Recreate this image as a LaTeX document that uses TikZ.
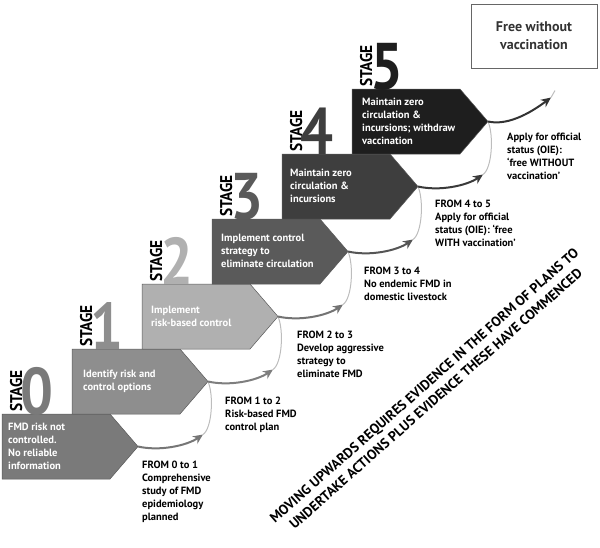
\documentclass[tikz,border=0pt]{standalone}
\usepackage{fontspec}
\setmainfont{PT Sans}
\usepackage{graphicx}
\usetikzlibrary{arrows.meta,calc}
\definecolor{s0}{HTML}{7A7A7A}
\definecolor{s1}{HTML}{8E8E8E}
\definecolor{s2}{HTML}{B0B0B0}
\definecolor{s3}{HTML}{5A5A5A}
\definecolor{s4}{HTML}{3E3E3E}
\definecolor{s5}{HTML}{1E1E1E}
\definecolor{r0}{HTML}{767676}
\definecolor{r1}{HTML}{7E7E7E}
\definecolor{r2}{HTML}{737373}
\definecolor{r3}{HTML}{555555}
\definecolor{r4}{HTML}{3A3A3A}
\definecolor{r5}{HTML}{333333}
\definecolor{arc}{HTML}{BDBDBD}
\begin{document}
\begin{tikzpicture}[x=1pt,y=-1pt,
  stagebox/.style={draw=black!65, line width=0.5pt},
  boxtext/.style={anchor=west, align=left, text=white, inner sep=0pt,
    font=\bfseries\fontsize{10.5}{13}\selectfont},
  fromtext/.style={anchor=north west, align=left, inner sep=0pt,
    font=\bfseries\fontsize{10.5}{13}\selectfont},
  stagelab/.style={rotate=90, anchor=base west, inner sep=0pt,
    font=\bfseries\fontsize{17}{17}\selectfont},
  digit/.style={anchor=base east, inner sep=0pt,
    font=\bfseries\fontsize{66}{66}\selectfont},
  uparrow/.style={line width=2pt, -{Stealth[length=10pt,width=9pt]}},
  backarc/.style={line width=1pt, draw=arc}]
\useasboundingbox (0,0) rectangle (600,547);

% stage boxes, labels and digits
\foreach \i/\col in {0/s0,1/s1,2/s2,3/s3,4/s4,5/s5}{
  \pgfmathsetmacro\L{2+70*\i}
  \pgfmathsetmacro\T{414-65*\i}
  \filldraw[stagebox, fill=\col] (\L,\T) -- ++(108,0) -- ++(28,32.5) -- ++(-28,32.5) -- ++(-108,0) -- cycle;
  \coordinate (t\i) at (\L+136,\T+32.5);
  \coordinate (a\i) at (\L+136+65,\T+32.5-12);
  \node[stagelab] (lab\i) at (\L+20,\T-2) {\scalebox{0.9}[1]{STAGE}};
  \node[digit, text=\col] (dig\i) at (\L+52,\T+0.5) {\scalebox{0.88}[1]{\i}};
}

\node[boxtext] (bt0) at (8,446.5) {FMD risk not\\controlled.\\No reliable\\information};
\node[boxtext] (bt1) at (83,381) {Identify risk and\\control options};
\node[boxtext] (bt2) at (151,316) {Implement\\risk-based control};
\node[boxtext] (bt3) at (221,251) {Implement control\\strategy to\\eliminate circulation};
\node[boxtext] (bt4) at (290,186) {Maintain zero\\circulation \&\\incursions};
\node[boxtext] (bt5) at (362,121) {Maintain zero\\circulation \&\\incursions; withdraw\\vaccination};

% transitions
\foreach \i/\j in {0/1,1/2,2/3,3/4,4/5}{
  \draw[backarc] (a\i) .. controls +(9,-6) and +(6,14) .. (t\j);
  \draw[uparrow, draw=r\i] (t\i) .. controls +(22,5) and +(-16,11) .. (a\i);
}
\coordinate (a5) at ($(t5)+(63,-24)$);
\draw[backarc] (a5) -- +(4,-7);
\draw[uparrow, draw=r5] (t5) .. controls +(22,5) and +(-16,12) .. (a5);

\node[fromtext] (f0) at (142,461) {FROM 0 to 1\\Comprehensive\\study of FMD\\epidemiology\\planned};
\node[fromtext] (f1) at (225,397) {FROM 1 to 2\\Risk-based FMD\\control plan};
\node[fromtext] (f2) at (297,331) {FROM 2 to 3\\Develop aggressive\\strategy to\\eliminate FMD};
\node[fromtext] (f3) at (364,267) {FROM 3 to 4\\No endemic FMD in\\domestic livestock};
\node[fromtext] (f4) at (435,200) {FROM 4 to 5\\Apply for official\\status (OIE): `free\\WITH vaccination'};
\node[fromtext] (f5) at (507,133) {Apply for official\\status (OIE):\\`free WITHOUT\\vaccination'};

% goal box
\node[draw=black!60, line width=0.6pt, minimum width=126pt, minimum height=64pt,
  align=center, text=black!80, font=\bfseries\fontsize{14}{18}\selectfont] (goal) at (534,36) {Free without\\vaccination};

% diagonal statement
\node[rotate=41.5, align=center, inner sep=0pt,
  font=\bfseries\fontsize{13.8}{17.5}\selectfont] (note) at (430,392)
  {MOVING UPWARDS REQUIRES EVIDENCE IN THE FORM OF PLANS TO\\UNDERTAKE ACTIONS PLUS EVIDENCE THESE HAVE COMMENCED};
\end{tikzpicture}
\end{document}
